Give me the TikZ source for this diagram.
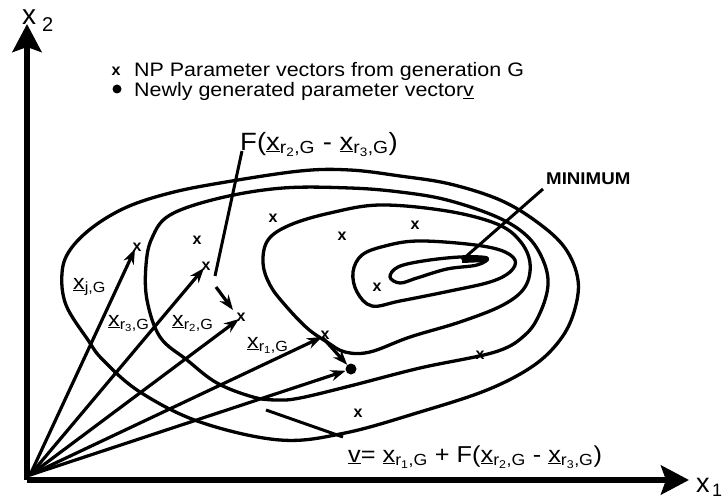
\documentclass[tikz,border=0pt]{standalone}
\usepackage{fontspec}
\setmainfont{Liberation Sans}
\usepackage{graphicx}
\usetikzlibrary{arrows.meta}
\newcommand{\hs}[1]{\scalebox{1.1}[1]{#1}}
\newcommand{\ux}{\underline{x}}
\newcommand{\fsz}[1]{\fontsize{#1}{#1}\selectfont}
\begin{document}
\begin{tikzpicture}[x=1pt,y=-1pt,
  contour/.style={line width=3.3pt, line join=round},
  vec/.style={line width=3.2pt, -{Stealth[length=15pt,width=11pt]}},
  axisline/.style={line width=5.5pt, -{Stealth[length=28pt,width=29pt,inset=5pt]}},
  leader/.style={line width=3pt},
  mk/.style={font=\fsz{16}\bfseries, inner sep=0pt},
  lbl/.style={inner sep=0pt, anchor=base west},
  dotv/.style={circle, fill, inner sep=0pt, minimum size=11pt}]
\useasboundingbox (0,0) rectangle (728,500);

% axes
\coordinate (O) at (27,480);
\coordinate (Xend) at (689,480);
\coordinate (Yend) at (27,24);
\draw[axisline] (O) -- (Xend);
\draw[axisline] (O) -- (Yend);
\node[lbl, font=\fsz{28}] (lx2) at (22,25) {x};
\node[lbl, font=\fsz{20}] (lx2s) at (42,32) {2};
\node[lbl, font=\fsz{27}] (lx1) at (696,492) {x};
\node[lbl, font=\fsz{18}] (lx1s) at (712,496) {1};

% legend
\node[mk] (legx) at (116,71) {x};
\node[lbl, font=\fsz{19.5}] (leg1) at (134,77) {\hs{NP Parameter vectors from generation G}};
\node[circle, fill, inner sep=0pt, minimum size=9pt] (legdot) at (117,89) {};
\node[lbl, font=\fsz{19.5}] (leg2) at (134,97) {\hs{Newly generated parameter vector\underline{v}}};

% contours
\draw[contour] plot[smooth cycle, tension=0.6] coordinates {
 (88,340) (66,305) (62,273) (70,250) (93,227) (127,207) (170,193) (220,183)
 (300,171) (350,170) (400,176) (450,184) (500,200) (537,222) (565,248)
 (578,280) (574,312) (560,340) (533,366) (487,390) (420,412) (345,433)
 (280,440) (200,422) (140,392) (103,360)};
\draw[contour] plot[smooth cycle, tension=0.6] coordinates {
 (187,360) (160,337) (147,300) (146,265) (152,238) (170,215) (220,198)
 (283,188) (350,188) (400,192) (447,200) (497,217) (527,236) (543,260)
 (548,285) (540,313) (525,335) (495,352) (420,368) (350,386) (300,398)
 (277,400) (253,397) (217,383)};
\draw[contour] plot[smooth cycle, tension=0.6] coordinates {
 (263,263) (268,240) (290,225) (330,213) (380,205) (447,211) (497,224)
 (520,241) (530,263) (525,287) (503,305) (460,322) (410,337) (370,352)
 (345,352) (327,342) (307,328) (285,305) (270,285)};
\draw[contour] plot[smooth cycle, tension=0.6] coordinates {
 (353,272) (362,255) (385,246) (417,241) (467,244) (500,250) (515,260)
 (510,272) (490,282) (450,291) (400,301) (372,306) (357,292)};
\draw[contour] plot[smooth cycle, tension=0.6] coordinates {
 (390,277) (398,267) (423,261) (460,257) (487,258) (477,265) (447,269)
 (417,278) (400,283)};
\coordinate (minA) at (462,260);
\coordinate (minB) at (486,259);
\draw[line width=6pt] (minA) -- (minB);

% x markers
\node[mk] (m1) at (197,240) {x};
\node[mk] (m2) at (273,218) {x};
\node[mk] (m3) at (342,236) {x};
\node[mk] (m4) at (415,225) {x};
\node[mk] (m5) at (377,287) {x};
\node[mk] (m6) at (480,355) {x};
\node[mk] (m7) at (358,413) {x};

% vector tips
\coordinate (xj) at (135,249);
\coordinate (xr3) at (204,268);
\coordinate (xr2) at (239,319);
\coordinate (xr1) at (322,337);
\node[mk] (mj) at (137,247) {x};
\node[mk] (mr3) at (206,266) {x};
\node[mk] (mr2) at (241,317) {x};
\node[mk] (mr1) at (325,335) {x};
\node[dotv] (v) at (351,369) {};

% vectors
\coordinate (Ov) at (30,475);
\draw[vec] (Ov) -- (xj);
\draw[vec] (Ov) -- (xr3);
\draw[vec] (Ov) -- (xr2);
\draw[vec] (Ov) -- (xr1);
\draw[vec] (Ov) -- (v);
\draw[vec] (xr1) -- (v);
\coordinate (fa) at (216,287);
\coordinate (fb) at (233,310);
\draw[vec] (fa) -- (fb);

% vector labels
\node[lbl, font=\fsz{21}] (lj) at (73,289) {\hs{\ux\textsubscript{j,G}}};
\node[lbl, font=\fsz{21}] (l3) at (108,326) {\hs{\ux\textsubscript{r\textsubscript{3},G}}};
\node[lbl, font=\fsz{21}] (l2) at (172,326) {\hs{\ux\textsubscript{r\textsubscript{2},G}}};
\node[lbl, font=\fsz{21}] (l1) at (247,348) {\hs{\ux\textsubscript{r\textsubscript{1},G}}};

% formula labels
\node[lbl, font=\fsz{25}] (flab) at (240,150) {\hs{F(\ux\textsubscript{r\textsubscript{2},G} - \ux\textsubscript{r\textsubscript{3},G})}};
\coordinate (fl0) at (242,151);
\coordinate (fl1) at (215,276);
\draw[leader] (fl0) -- (fl1);

\node[lbl, font=\fsz{23}] (vlab) at (348,462) {\hs{\underline{v}= \ux\textsubscript{r\textsubscript{1},G} + F(\ux\textsubscript{r\textsubscript{2},G} - \ux\textsubscript{r\textsubscript{3},G})}};
\coordinate (vl0) at (343,437);
\coordinate (vl1) at (266,410);
\draw[leader] (vl0) -- (vl1);

\node[lbl, font=\fsz{17}\bfseries] (minlab) at (546,184) {\hs{MINIMUM}};
\coordinate (ml0) at (543,189);
\draw[leader] (ml0) -- (minA);
\end{tikzpicture}
\end{document}
